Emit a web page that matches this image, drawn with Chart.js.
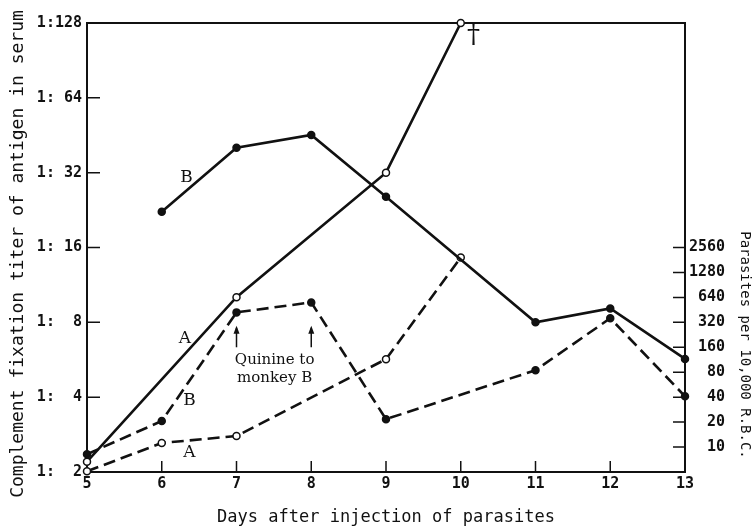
<!DOCTYPE html>
<html>
<head>
<meta charset="utf-8">
<script src="https://cdn.jsdelivr.net/npm/chart.js@4/dist/chart.umd.min.js"></script>
<style>
  html, body { margin: 0; padding: 0; background: #fff; }
</style>
</head>
<body>
<canvas id="chart" width="756" height="531"></canvas>
<script>
// Days after injection
const days = [5, 6, 7, 8, 9, 10, 11, 12, 13];

// Complement fixation titer (reciprocal), solid lines
const titerA = [2.2, null, 10.1, null, 32, 128, null, null, null];
const titerB = [null, 22.3, 40.3, 45.4, 25.6, null, 8.0, 9.1, 5.7];

// Parasites per 10,000 R.B.C., dashed lines
const parasitesA = [5.1, 11.2, 13.6, null, 115, 1940, null, null, null];
const parasitesB = [8.2, 20.6, 422, 557, 21.7, null, 84.6, 358, 41];

// tick values / labels
const titerTicks = [2, 4, 8, 16, 32, 64, 128];
const titerLabels = ["1:  2", "1:  4", "1:  8", "1: 16", "1: 32", "1: 64", "1:128"];
const parasiteTicks = [10, 20, 40, 80, 160, 320, 640, 1280, 2560];

// text notes placed in data units (day, axis, value)
const notes = [
  { text: "B", day: 6.33, axis: "yT", value: 30.7, size: 17 },
  { text: "A", day: 6.31, axis: "yT", value: 6.9, size: 17 },
  { text: "B", day: 6.37, axis: "yP", value: 36.8, size: 17 },
  { text: "A", day: 6.37, axis: "yP", value: 8.5, size: 17 },
  { text: "Quinine to", day: 7.51, axis: "yP", value: 111, size: 15 },
  { text: "monkey B", day: 7.51, axis: "yP", value: 67.7, size: 15 },
  { text: "†", day: 10.17, axis: "yT", value: 113, size: 26 }
];
const quinineDays = [7, 8];

const ink = "#111";
const tickFont = { family: "'DejaVu Sans Mono', monospace", size: 15, weight: "bold" };
const titleFamily = "'DejaVu Sans Mono', monospace";

const decorations = {
  id: "decorations",
  beforeDatasetsDraw(chart) {
    const { ctx, chartArea: a, scales } = chart;
    ctx.save();
    ctx.strokeStyle = ink;
    ctx.lineWidth = 2;
    ctx.strokeRect(a.left, a.top, a.right - a.left, a.bottom - a.top);
    ctx.lineWidth = 1.5;
    ctx.beginPath();
    scales.yT.ticks.forEach(t => {
      const y = scales.yT.getPixelForValue(t.value);
      ctx.moveTo(a.left, y); ctx.lineTo(a.left + 13, y);
    });
    scales.yP.ticks.forEach(t => {
      const y = scales.yP.getPixelForValue(t.value);
      ctx.moveTo(a.right, y); ctx.lineTo(a.right - 12, y);
    });
    days.forEach((d, i) => {
      const x = scales.x.getPixelForValue(i);
      ctx.moveTo(x, a.bottom); ctx.lineTo(x, a.bottom - 11);
    });
    ctx.stroke();
    ctx.restore();
  },
  afterDatasetsDraw(chart) {
    const { ctx, scales } = chart;
    ctx.save();
    ctx.fillStyle = ink;
    ctx.textAlign = "center";
    ctx.textBaseline = "middle";
    notes.forEach(n => {
      ctx.font = n.size + "px 'DejaVu Serif', serif";
      const x = scales.x.getPixelForValue(n.day - days[0]);
      const y = scales[n.axis].getPixelForValue(n.value);
      ctx.fillText(n.text, x, y);
    });
    // arrows for quinine
    ctx.strokeStyle = ink;
    ctx.lineWidth = 1.5;
    quinineDays.forEach(d => {
      const x = scales.x.getPixelForValue(d - days[0]);
      const y1 = scales.yP.getPixelForValue(160);
      const y2 = scales.yP.getPixelForValue(275);
      ctx.beginPath();
      ctx.moveTo(x, y1); ctx.lineTo(x, y2);
      ctx.stroke();
      ctx.beginPath();
      ctx.moveTo(x, y2 - 2); ctx.lineTo(x - 3, y2 + 6); ctx.lineTo(x + 3, y2 + 6);
      ctx.closePath(); ctx.fill();
    });
    // left axis title, reading upwards
    ctx.font = "18px " + titleFamily;
    ctx.save();
    ctx.translate(18, 254);
    ctx.rotate(-Math.PI / 2);
    ctx.fillText("Complement fixation titer of antigen in serum", 0, 0);
    ctx.restore();
    // right axis title, reading downwards
    ctx.font = "14px " + titleFamily;
    ctx.translate(745, 345);
    ctx.rotate(Math.PI / 2);
    ctx.fillText("Parasites per 10,000 R.B.C.", 0, 0);
    ctx.restore();
  }
};

function lineSet(data, axis, open, dashed) {
  return {
    data: data,
    yAxisID: axis,
    borderColor: ink,
    borderWidth: 2.6,
    borderDash: dashed ? [12, 6] : [],
    pointRadius: 3.5,
    pointBorderWidth: 1.5,
    pointBorderColor: ink,
    pointBackgroundColor: open ? "#fff" : ink,
    spanGaps: true,
    tension: 0,
    fill: false,
    clip: false
  };
}

new Chart(document.getElementById("chart"), {
  type: "line",
  data: {
    labels: days,
    datasets: [
      lineSet(titerA, "yT", true, false),
      lineSet(titerB, "yT", false, false),
      lineSet(parasitesA, "yP", true, true),
      lineSet(parasitesB, "yP", false, true)
    ]
  },
  options: {
    responsive: false,
    animation: false,
    layout: { padding: { top: 23, left: 0, right: 0, bottom: 0 } },
    plugins: { legend: { display: false }, tooltip: { enabled: false } },
    scales: {
      x: {
        type: "category",
        offset: false,
        grid: { display: false, drawTicks: false },
        border: { display: false },
        ticks: { color: ink, font: tickFont, padding: 3, autoSkip: false, maxRotation: 0 },
        title: { display: true, text: "Days after injection of parasites", color: ink, font: { family: titleFamily, size: 17 }, padding: { top: 0, bottom: 3 } },
        afterFit(s) { s.height = 59; }
      },
      yT: {
        type: "logarithmic",
        position: "left",
        min: 2,
        max: 128,
        grid: { display: false, drawTicks: false },
        border: { display: false },
        afterBuildTicks(s) { s.ticks = titerTicks.map(v => ({ value: v })); },
        ticks: { color: ink, font: tickFont, padding: 5, autoSkip: false, callback: (v, i) => titerLabels[i] },
        afterFit(s) { s.width = 87; }
      },
      yP: {
        type: "logarithmic",
        position: "right",
        min: 5,
        max: 1310720,
        grid: { display: false, drawTicks: false },
        border: { display: false },
        afterBuildTicks(s) { s.ticks = parasiteTicks.map(v => ({ value: v })); },
        ticks: { color: ink, font: tickFont, padding: 4, autoSkip: false, callback: v => String(v).padStart(4, " ") },
        afterFit(s) { s.width = 71; }
      }
    }
  },
  plugins: [decorations]
});
</script>
</body>
</html>
